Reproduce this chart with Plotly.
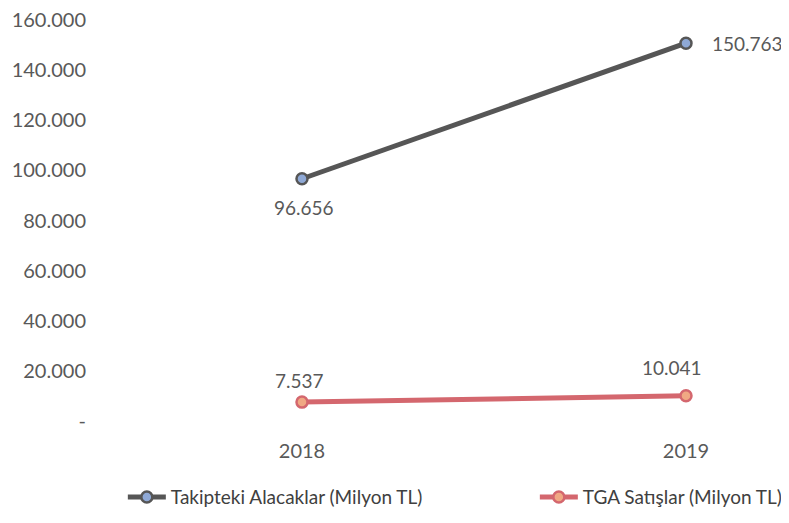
import plotly.graph_objects as go

years = ["2018", "2019"]
takipteki = [96656, 150763]
tga = [7537, 10041]
takipteki_labels = ["96.656", "150.763"]
tga_labels = ["7.537", "10.041"]
ytick_vals = [0, 20000, 40000, 60000, 80000, 100000, 120000, 140000, 160000]
ytick_text = ["-", "20.000", "40.000", "60.000", "80.000", "100.000", "120.000", "140.000", "160.000"]

FONT = "Lato, Open Sans, sans-serif"
GRAY = "#595959"
RED = "#d4676e"

fig = go.Figure()
fig.add_trace(go.Scatter(
    x=years, y=takipteki, mode="lines+markers", name="Takipteki Alacaklar (Milyon TL)",
    line=dict(color="#565656", width=5),
    marker=dict(size=11, color="#8fa9d6", line=dict(color="#565656", width=2.5)),
    legend="legend",
))
fig.add_trace(go.Scatter(
    x=years, y=tga, mode="lines+markers", name="TGA Satışlar (Milyon TL)",
    line=dict(color=RED, width=5),
    marker=dict(size=11, color="#f0a883", line=dict(color=RED, width=2.5)),
    legend="legend2",
))

# data labels (x given as category index)
offsets_a = [(2, -29), (62, 0)]
for i, (y, t, (dx, dy)) in enumerate(zip(takipteki, takipteki_labels, offsets_a)):
    fig.add_annotation(x=i, y=y, xref="x", yref="y", text=t, showarrow=False,
                       xshift=dx, yshift=dy,
                       font=dict(family=FONT, size=19, color=GRAY))
offsets_b = [(-2, 22), (-14, 28)]
for i, (y, t, (dx, dy)) in enumerate(zip(tga, tga_labels, offsets_b)):
    fig.add_annotation(x=i, y=y, xref="x", yref="y", text=t, showarrow=False,
                       xshift=dx, yshift=dy,
                       font=dict(family=FONT, size=19, color=GRAY))

legend_common = dict(orientation="h", yanchor="middle", y=-0.19, xanchor="left",
                     font=dict(family=FONT, size=19, color="#404040"),
                     bgcolor="rgba(0,0,0,0)", itemwidth=38)

fig.update_layout(
    width=789, height=523,
    margin=dict(l=91, r=17, t=12, b=110, autoexpand=False),
    paper_bgcolor="white", plot_bgcolor="white",
    font=dict(family=FONT, size=19, color=GRAY),
    showlegend=True,
    legend=dict(x=0.035, **legend_common),
    legend2=dict(x=0.640, **legend_common),
    xaxis=dict(type="category", range=[-0.5286, 1.2448], showgrid=False, zeroline=False,
               showline=False, ticks="", ticklabelstandoff=16,
               tickfont=dict(family=FONT, size=20, color=GRAY)),
    yaxis=dict(range=[0, 160000], tickvals=ytick_vals, ticktext=ytick_text,
               showgrid=False, zeroline=False, showline=False, ticks="",
               ticklabelstandoff=12, ticklabeloverflow="allow",
               tickfont=dict(family=FONT, size=20, color=GRAY)),
)

fig.write_html("out.html")
